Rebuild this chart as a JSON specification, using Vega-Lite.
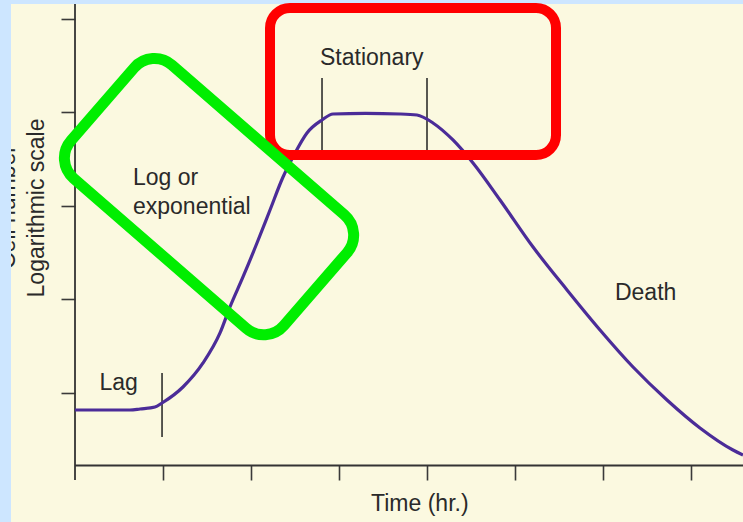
{
  "$schema": "https://vega.github.io/schema/vega-lite/v6.json",
  "width": 732,
  "height": 518,
  "autosize": "none",
  "padding": {"left": 11, "top": 4, "right": 0, "bottom": 0},
  "background": "#cde6ff",
  "config": {
    "view": {"fill": "#fbf9e0", "stroke": null},
    "font": "Liberation Sans"
  },
  "datasets": {
    "axislines": [
      {"x": 0, "x2": 7.5909, "y": 0.2246, "y2": 0.2246},
      {"x": 0, "x2": 0, "y": 0.0695, "y2": 5.1604}
    ],
    "bars": [
      {"x": 0.989, "x2": 0.989, "y": 1.214, "y2": 0.529},
      {"x": 2.807, "x2": 2.807, "y": 4.369, "y2": 3.599},
      {"x": 4.0, "x2": 4.0, "y": 4.369, "y2": 3.599}
    ],
    "labels": [
      {"x": 2.784, "y": 4.508, "label": "Stationary"},
      {"x": 0.278, "y": 1.032, "label": "Lag"},
      {"x": 0.659, "y": 3.225, "label": "Log or"},
      {"x": 0.659, "y": 2.914, "label": "exponential"},
      {"x": 6.136, "y": 1.995, "label": "Death"},
      {"x": 3.364, "y": -0.262, "label": "Time (hr.)"}
    ],
    "ytitle": [
      {"x": -0.352, "y": 2.979, "label": "Logarithmic scale"},
      {"x": -0.682, "y": 2.989, "label": "Cell number"}
    ],
    "curve": [
      {"x": 0, "y": 0.818},
      {"x": 0.284, "y": 0.818},
      {"x": 0.625, "y": 0.818},
      {"x": 0.739, "y": 0.829},
      {"x": 0.909, "y": 0.85},
      {"x": 0.989, "y": 0.893},
      {"x": 1.227, "y": 1.064},
      {"x": 1.455, "y": 1.321},
      {"x": 1.648, "y": 1.642},
      {"x": 1.761, "y": 1.92},
      {"x": 1.909, "y": 2.241},
      {"x": 2.068, "y": 2.604},
      {"x": 2.216, "y": 2.957},
      {"x": 2.364, "y": 3.31},
      {"x": 2.477, "y": 3.524},
      {"x": 2.636, "y": 3.781},
      {"x": 2.807, "y": 3.92},
      {"x": 2.932, "y": 3.984},
      {"x": 3.3, "y": 3.99},
      {"x": 3.693, "y": 3.984},
      {"x": 3.886, "y": 3.973},
      {"x": 4.068, "y": 3.888},
      {"x": 4.295, "y": 3.706},
      {"x": 4.523, "y": 3.46},
      {"x": 4.83, "y": 3.064},
      {"x": 5.205, "y": 2.561},
      {"x": 5.591, "y": 2.102},
      {"x": 5.966, "y": 1.674},
      {"x": 6.341, "y": 1.278},
      {"x": 6.727, "y": 0.925},
      {"x": 7.102, "y": 0.626},
      {"x": 7.477, "y": 0.39},
      {"x": 7.591, "y": 0.337}
    ],
    "redbox": [
      {"x": 2.216, "x2": 5.466, "y": 5.118, "y2": 3.545}
    ],
    "greenbox": [
      {"x": 1.523, "y": 3.1}
    ]
  },
  "encoding": {
    "x": {
      "field": "x", "type": "quantitative",
      "scale": {"domain": [-0.7273, 7.5909], "nice": false, "zero": false},
      "axis": {"orient": "bottom", "offset": -57, "values": [1, 2, 3, 4, 5, 6, 7], "labels": false, "domain": false, "grid": false, "title": null, "tickSize": 15, "tickColor": "#3a3a3a", "tickWidth": 1.6}
    },
    "y": {
      "field": "y", "type": "quantitative",
      "scale": {"domain": [-0.3797, 5.1604], "nice": false, "zero": false},
      "axis": {"orient": "left", "offset": -64, "values": [1, 2, 3, 4, 5], "labels": false, "domain": false, "grid": false, "title": null, "tickSize": 14, "tickColor": "#3a3a3a", "tickWidth": 1.6}
    }
  },
  "layer": [
    {
      "data": {"name": "axislines"},
      "mark": {"type": "rule", "color": "#333333", "strokeWidth": 1.8},
      "encoding": {"x2": {"field": "x2"}, "y2": {"field": "y2"}}
    },
    {
      "data": {"name": "bars"},
      "mark": {"type": "rule", "color": "#222222", "strokeWidth": 1.5},
      "encoding": {"x2": {"field": "x2"}, "y2": {"field": "y2"}}
    },
    {
      "data": {"name": "labels"},
      "mark": {"type": "text", "align": "left", "baseline": "alphabetic", "fontSize": 23, "color": "#2a2a2a", "clip": true},
      "encoding": {"text": {"field": "label"}}
    },
    {
      "data": {"name": "ytitle"},
      "mark": {"type": "text", "align": "center", "baseline": "alphabetic", "angle": -90, "fontSize": 23, "color": "#2a2a2a", "clip": true},
      "encoding": {"text": {"field": "label"}}
    },
    {
      "data": {"name": "curve"},
      "mark": {"type": "line", "interpolate": "monotone", "color": "#4b2c98", "strokeWidth": 3.2}
    },
    {
      "data": {"name": "redbox"},
      "mark": {"type": "rect", "filled": false, "stroke": "#ff0000", "strokeWidth": 10, "cornerRadius": 20, "opacity": 1},
      "encoding": {"x2": {"field": "x2"}, "y2": {"field": "y2"}}
    },
    {
      "data": {"name": "greenbox"},
      "mark": {
        "type": "point",
        "shape": "M -0.81,-0.532 L 0.81,-0.532 C 0.915,-0.532 1,-0.447 1,-0.342 L 1,0.342 C 1,0.447 0.915,0.532 0.81,0.532 L -0.81,0.532 C -0.915,0.532 -1,0.447 -1,0.342 L -1,-0.342 C -1,-0.447 -0.915,-0.532 -0.81,-0.532 Z",
        "size": 79524,
        "angle": 41,
        "filled": false,
        "stroke": "#00ee00",
        "strokeWidth": 11,
        "opacity": 1
      }
    }
  ]
}
